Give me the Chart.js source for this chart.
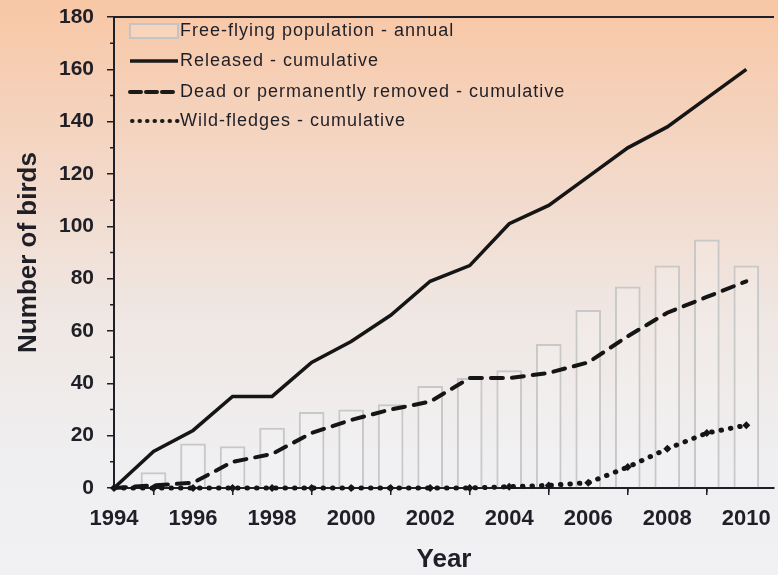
<!DOCTYPE html>
<html>
<head>
<meta charset="utf-8">
<script src="https://cdn.jsdelivr.net/npm/chart.js@4/dist/chart.umd.min.js"></script>
<style>
  html, body { margin: 0; padding: 0; background: #f1f1f4; }
  canvas { display: block; }
</style>
</head>
<body>
<canvas id="myChart" width="778" height="575"></canvas>
<script>
const years = [1994, 1995, 1996, 1997, 1998, 1999, 2000, 2001, 2002, 2003, 2004, 2005, 2006, 2007, 2008, 2009, 2010];
const freeFlying = [0, 6, 17, 16, 23, 29, 30, 32, 39, 42, 45, 55, 68, 77, 85, 95, 85];
const released = [0, 14, 22, 35, 35, 48, 56, 66, 79, 85, 101, 108, 119, 130, 138, 149, 160];
const dead = [0, 1, 2, 10, 13, 21, 26, 30, 33, 42, 42, 44, 48, 58, 67, 73, 79];
const wild = [0, 0, 0, 0, 0, 0, 0, 0, 0, 0, 0.5, 1, 2, 8, 15, 21, 24];

const labels = [
  'Free-flying population - annual',
  'Released - cumulative',
  'Dead or permanently removed - cumulative',
  'Wild-fledges - cumulative'
];

const textColor = '#1f1f27';
const fontFamily = '"Liberation Sans", Arial, sans-serif';

function pts(vals) {
  return years.map((yr, i) => ({x: yr, y: vals[i]}));
}

// peach to grey background
const background = {
  id: 'background',
  beforeDraw(chart) {
    const ctx = chart.ctx;
    const g = ctx.createLinearGradient(0, 0, 0, chart.height);
    g.addColorStop(0, '#f8c7a5');
    g.addColorStop(0.3, '#f3d8c8');
    g.addColorStop(0.55, '#efe7e3');
    g.addColorStop(0.8, '#efeff1');
    g.addColorStop(1, '#f1f1f4');
    ctx.save();
    ctx.fillStyle = g;
    ctx.fillRect(0, 0, chart.width, chart.height);
    ctx.restore();
  }
};

// minor ticks, top frame line and the legend inside the plot
const extras = {
  id: 'extras',
  afterDraw(chart) {
    const ctx = chart.ctx;
    const area = chart.chartArea;
    const xs = chart.scales.x;
    const ys = chart.scales.y;
    ctx.save();
    ctx.strokeStyle = textColor;
    ctx.lineWidth = 1.5;
    ctx.beginPath();
    for (let v = 10; v < 180; v += 20) {
      const py = ys.getPixelForValue(v);
      ctx.moveTo(area.left - 4, py);
      ctx.lineTo(area.left, py);
    }
    for (let yr = 1995; yr < 2011; yr += 2) {
      const px = xs.getPixelForValue(yr);
      ctx.moveTo(px, area.bottom);
      ctx.lineTo(px, area.bottom + 4);
    }
    ctx.stroke();

    ctx.lineWidth = 2;
    ctx.beginPath();
    ctx.moveTo(area.left, area.top);
    ctx.lineTo(area.right, area.top);
    ctx.stroke();

    // legend
    const x0 = 130, x1 = 178;
    const rows = [31, 61, 92, 121];
    const ds = chart.data.datasets;
    ctx.strokeStyle = '#c4c4c4';
    ctx.lineWidth = 2;
    ctx.fillStyle = 'rgba(255,255,255,0.2)';
    ctx.fillRect(x0, rows[0] - 7, x1 - x0, 14);
    ctx.strokeRect(x0, rows[0] - 7, x1 - x0, 14);
    for (let i = 1; i < 4; i++) {
      ctx.strokeStyle = '#1a1a1a';
      ctx.lineWidth = i === 3 ? 4 : ds[i].borderWidth;
      ctx.lineCap = ds[i].borderCapStyle || 'butt';
      ctx.setLineDash(i === 2 ? [11, 5] : (i === 3 ? [0.5, 7] : []));
      ctx.beginPath();
      ctx.moveTo(x0 + (i === 3 ? 2 : 0), rows[i]);
      ctx.lineTo(x1, rows[i]);
      ctx.stroke();
    }
    ctx.setLineDash([]);
    ctx.fillStyle = textColor;
    ctx.font = '18px ' + fontFamily;
    ctx.letterSpacing = '1px';
    ctx.textBaseline = 'middle';
    for (let i = 0; i < 4; i++) {
      ctx.fillText(ds[i].label, x1 + 2, rows[i]);
    }
    ctx.restore();
  }
};

const ctx = document.getElementById('myChart').getContext('2d');
const myChart = new Chart(ctx, {
  type: 'bar',
  data: {
    datasets: [
      {
        type: 'bar',
        label: labels[0],
        data: pts(freeFlying).slice(1),
        backgroundColor: 'rgba(255,255,255,0.15)',
        borderColor: '#c8c8c8',
        borderWidth: 2,
        barPercentage: 0.65,
        categoryPercentage: 1,
        order: 10
      },
      {
        type: 'line',
        label: labels[1],
        data: pts(released),
        borderColor: '#151515',
        borderWidth: 3.5,
        pointRadius: 0,
        tension: 0,
        clip: false,
        order: 1
      },
      {
        type: 'line',
        label: labels[2],
        data: pts(dead),
        borderColor: '#151515',
        borderWidth: 4,
        borderDash: [12, 9],
        borderCapStyle: 'round',
        pointRadius: 0,
        tension: 0,
        clip: false,
        order: 2
      },
      {
        type: 'line',
        label: labels[3],
        data: pts(wild),
        borderColor: '#151515',
        borderWidth: 5,
        borderDash: [0.5, 9],
        borderCapStyle: 'round',
        pointStyle: 'rectRot',
        pointRadius: 4,
        pointBackgroundColor: '#151515',
        pointBorderWidth: 0,
        tension: 0,
        clip: false,
        order: 3
      }
    ]
  },
  options: {
    responsive: false,
    animation: false,
    layout: {padding: {top: 17, left: 0, right: 0, bottom: 0}},
    plugins: {
      legend: {display: false},
      tooltip: {enabled: false}
    },
    scales: {
      x: {
        type: 'linear',
        min: 1994,
        max: 2010.7,
        offset: false,
        afterFit: s => { s.height = 87; s.paddingLeft = 0; s.paddingRight = 0; },
        ticks: {
          stepSize: 2,
          includeBounds: false,
          padding: 11,
          color: textColor,
          font: {family: fontFamily, size: 22, weight: 'bold'},
          callback: v => String(v)
        },
        grid: {drawOnChartArea: false, drawTicks: true, tickLength: 7, color: textColor, lineWidth: 1.5},
        border: {display: true, color: textColor, width: 2},
        title: {
          display: true,
          text: 'Year',
          color: textColor,
          padding: {top: 0, bottom: 0},
          font: {family: fontFamily, size: 26, weight: 'bold'}
        }
      },
      y: {
        min: 0,
        max: 180,
        afterFit: s => { s.width = 114; s.paddingTop = 0; s.paddingBottom = 0; },
        ticks: {
          stepSize: 20,
          padding: 13,
          color: textColor,
          font: {family: fontFamily, size: 21, weight: 'bold'}
        },
        grid: {drawOnChartArea: false, drawTicks: true, tickLength: 7, color: textColor, lineWidth: 1.5},
        border: {display: true, color: textColor, width: 2},
        title: {
          display: true,
          text: 'Number of birds',
          color: textColor,
          padding: {top: 13, bottom: 0},
          font: {family: fontFamily, size: 26, weight: 'bold'}
        }
      }
    }
  },
  plugins: [background, extras]
});
</script>
</body>
</html>
